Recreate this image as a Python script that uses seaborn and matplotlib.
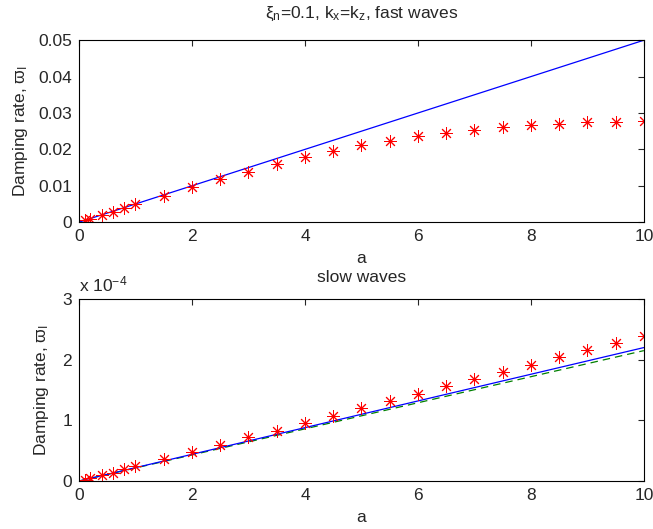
import numpy as np
import matplotlib
matplotlib.use("Agg")
import matplotlib.pyplot as plt
import seaborn as sns
from matplotlib.ticker import FuncFormatter

# sample points (red asterisks)
a_pts = [0.1, 0.2, 0.4, 0.6, 0.8, 1.0, 1.5, 2.0, 2.5, 3.0, 3.5, 4.0, 4.5,
         5.0, 5.5, 6.0, 6.5, 7.0, 7.5, 8.0, 8.5, 9.0, 9.5, 10.0]
fast_pts = [0.0005, 0.0010, 0.0019, 0.0029, 0.0040, 0.0050, 0.0072, 0.0097,
            0.0120, 0.0139, 0.0161, 0.0179, 0.0195, 0.0212, 0.0224, 0.0236,
            0.0245, 0.0254, 0.0261, 0.0266, 0.0271, 0.0274, 0.0276, 0.0278]
slow_pts = [0.025e-4, 0.05e-4, 0.10e-4, 0.14e-4, 0.19e-4, 0.24e-4, 0.36e-4,
            0.48e-4, 0.60e-4, 0.72e-4, 0.83e-4, 0.95e-4, 1.08e-4, 1.20e-4,
            1.32e-4, 1.44e-4, 1.57e-4, 1.68e-4, 1.80e-4, 1.92e-4, 2.04e-4,
            2.16e-4, 2.27e-4, 2.39e-4]

# analytic curves
a_line = [0.0, 10.0]
fast_line = [0.0, 0.05]
slow_line = [0.0, 2.20e-4]
slow_line2 = [0.0, 2.15e-4]

sns.set_style("white")
plt.rcParams["font.family"] = ["Liberation Sans", "DejaVu Sans"]
plt.rcParams["mathtext.default"] = "regular"
fs = 12.5
plt.rcParams["font.size"] = fs

fig = plt.figure(figsize=(6.53, 5.29), dpi=100)
ax1 = fig.add_axes([0.121, 0.580, 0.865, 0.344])
ax2 = fig.add_axes([0.121, 0.0907, 0.865, 0.344])

ast = (8, 2, 0)

sns.lineplot(x=a_line, y=fast_line, ax=ax1, color=(0, 0, 1), lw=0.9)
sns.lineplot(x=a_pts, y=fast_pts, ax=ax1, color="red", linestyle="",
             marker=ast, markersize=9, mec="red", mew=0.7)

sns.lineplot(x=a_line, y=slow_line2, ax=ax2, color=(0, 0.5, 0), lw=0.9,
             linestyle=(0, (6, 4)))
sns.lineplot(x=a_line, y=slow_line, ax=ax2, color=(0, 0, 1), lw=0.9)
sns.lineplot(x=a_pts, y=slow_pts, ax=ax2, color="red", linestyle="",
             marker=ast, markersize=9, mec="red", mew=0.7)

for ax in (ax1, ax2):
    ax.set_xlim(0, 10)
    ax.set_xticks([0, 2, 4, 6, 8, 10])
    ax.tick_params(direction="in", top=True, right=True, length=4,
                   width=0.8, labelsize=fs, pad=5)
    for s in ax.spines.values():
        s.set_linewidth(0.8)
        s.set_color("black")
    ax.set_xlabel("a", fontsize=fs, labelpad=5)

ax1.set_ylabel(r"Damping rate, $\varpi_I$", fontsize=fs, labelpad=6)
ax2.set_ylabel(r"Damping rate, $\varpi_I$", fontsize=fs, labelpad=8)

ax1.set_ylim(0, 0.05)
ax1.set_yticks([0, 0.01, 0.02, 0.03, 0.04, 0.05])
ax1.yaxis.set_major_formatter(FuncFormatter(lambda v, p: "0" if v == 0 else f"{v:.2f}"))
ax1.set_title(r"$\xi_n$=0.1, k$_x$=k$_z$, fast waves", fontsize=fs, pad=16)

ax2.set_ylim(0, 3e-4)
ax2.set_yticks([0, 1e-4, 2e-4, 3e-4])
ax2.yaxis.set_major_formatter(FuncFormatter(lambda v, p: f"{v / 1e-4:.0f}"))
ax2.set_title("slow waves", fontsize=fs, pad=12)
ax2.text(0.0, 1.025, r"x 10$^{-4}$", transform=ax2.transAxes,
         ha="left", va="bottom", fontsize=fs)

fig.savefig("out.png", dpi=100)
